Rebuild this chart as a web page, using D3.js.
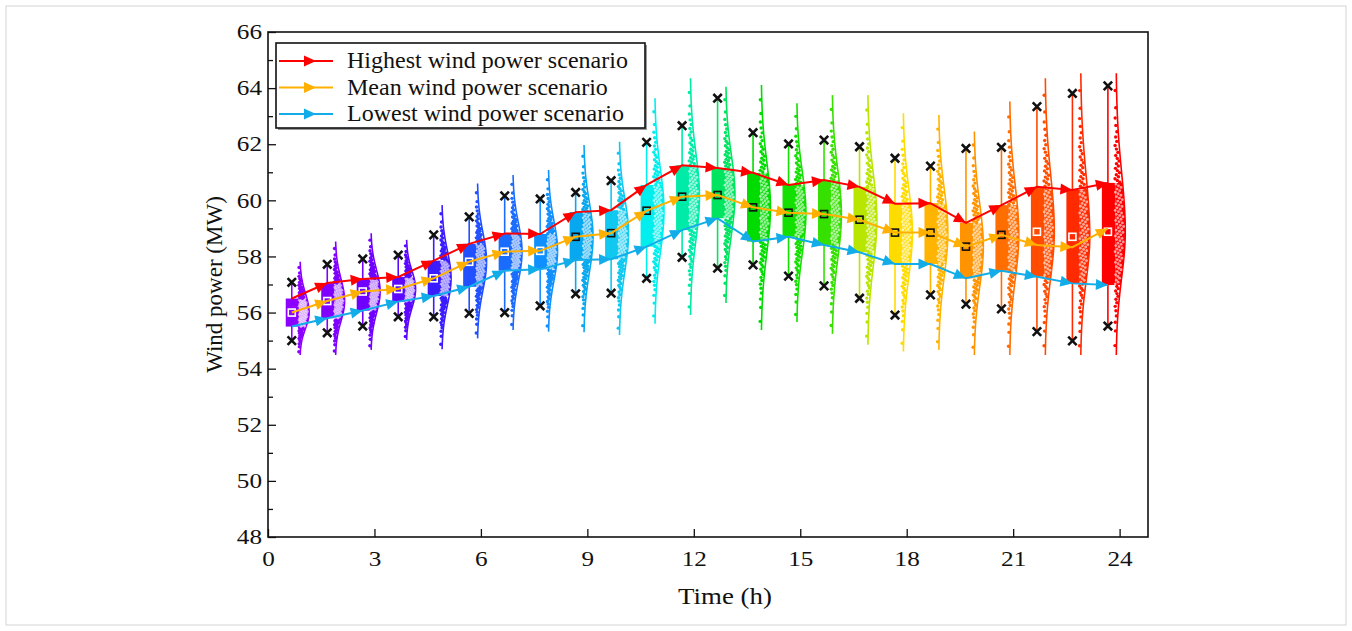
<!DOCTYPE html>
<html lang="en">
<head>
<meta charset="utf-8">
<title>Wind power scenarios</title>
<script src="https://d3js.org/d3.v7.min.js"></script>
<style>
  body { margin: 0; background: #fff; }
  text { font-family: "Liberation Serif", "Times New Roman", serif; fill: #111; }
</style>
</head>
<body>
<div id="chart"></div>
<script>
// ---- data ----
const hours = [1, 2, 3, 4, 5, 6, 7, 8, 9, 10, 11, 12, 13, 14, 15, 16, 17, 18, 19, 20, 21, 22, 23, 24];
const highest = [56.5, 57.05, 57.2, 57.27, 57.85, 58.45, 58.82, 58.8, 59.58, 59.65, 60.55, 61.25,
                 61.15, 60.98, 60.55, 60.72, 60.48, 59.88, 59.9, 59.2, 59.83, 60.48, 60.37, 60.62];
const meanScenario = [56.0, 56.41, 56.75, 56.84, 57.22, 57.81, 58.17, 58.2, 58.7, 58.83, 59.63, 60.13,
                      60.19, 59.75, 59.56, 59.51, 59.31, 58.85, 58.85, 58.35, 58.77, 58.41, 58.33, 59.0];
const lowest = [55.5, 55.8, 56.07, 56.39, 56.59, 56.92, 57.49, 57.54, 57.87, 57.9, 58.35, 58.94,
                59.36, 58.53, 58.7, 58.41, 58.15, 57.73, 57.73, 57.22, 57.49, 57.28, 57.04, 56.98];
const boxMean = [56.0, 56.41, 56.75, 56.84, 57.22, 57.81, 58.17, 58.2, 58.7, 58.83, 59.63, 60.13,
                 60.19, 59.75, 59.56, 59.51, 59.31, 58.85, 58.85, 58.35, 58.77, 58.88, 58.7, 58.88];
const markTop = [57.08, 57.72, 57.91, 58.05, 58.77, 59.41, 60.16, 60.05, 60.28, 60.7, 62.07, 62.66,
                 63.64, 62.41, 62.01, 62.15, 61.91, 61.5, 61.22, 61.85, 61.89, 63.34, 63.81, 64.08];
const markBottom = [55.0, 55.28, 55.52, 55.85, 55.85, 55.97, 56.0, 56.24, 56.67, 56.69, 57.22, 57.97,
                    57.58, 57.7, 57.3, 56.95, 56.51, 55.91, 56.63, 56.3, 56.13, 55.32, 54.99, 55.52];
const curveTop = [57.81, 58.53, 58.83, 58.59, 59.83, 60.6, 60.9, 61.08, 61.97, 62.09, 63.64, 64.35,
                  64.05, 64.11, 63.46, 63.75, 63.75, 63.1, 63.04, 62.45, 63.52, 64.35, 64.53, 64.53];
const curveBottom = [54.49, 54.49, 54.67, 55.02, 54.69, 55.08, 55.38, 55.32, 55.3, 55.2, 55.6, 55.91,
                     56.34, 55.38, 55.66, 55.24, 54.85, 54.61, 54.67, 54.49, 54.49, 54.49, 54.49, 54.49];
const hourColors = ["#8c00ff", "#8000ff", "#7000ff", "#5c08ff", "#3a1cff", "#2050ff", "#1a6cff", "#1090ff",
                    "#08a8f0", "#10c8f0", "#00eeee", "#00eaa8", "#00e460", "#00dc00", "#14e000", "#36e000",
                    "#b8e600", "#ffdc00", "#ffb400", "#ff9400", "#ff6e00", "#ff4c00", "#ff2a00", "#ff0000"];
const xTicks = [0, 3, 6, 9, 12, 15, 18, 21, 24];
const yTicks = [48, 50, 52, 54, 56, 58, 60, 62, 64, 66];
const yMinor = [49, 51, 53, 55, 57, 59, 61, 63, 65];
const seriesNames = ["Highest wind power scenario", "Mean wind power scenario", "Lowest wind power scenario"];
const seriesColors = ["#ff0000", "#ffb000", "#12ace8"];

// ---- chart setup ----
const width = 1352, height = 631;
const pLeft = 268, pRight = 1148, pTop = 32, pBottom = 537;

const svg = d3.select("#chart").append("svg")
  .attr("width", width)
  .attr("height", height);

svg.append("rect")
  .attr("x", 6).attr("y", 6).attr("width", width - 12).attr("height", height - 12)
  .attr("fill", "none").attr("stroke", "#d4d4d4");

const x = d3.scaleLinear().domain([0, 24.8]).range([pLeft, pRight]);
const y = d3.scaleLinear().domain([48, 66]).range([pBottom, pTop]);

// offsets (in hours) for the parts of one group
const boxL = -0.5, boxR = -0.12, centre = -0.33, base = -0.1, peak = 0.26;

const plot = svg.append("g");

hours.forEach((h, i) => {
  const col = hourColors[i];
  const m = boxMean[i];
  const sdUp = (curveTop[i] - m) / 2.7, sdDown = (m - curveBottom[i]) / 2.7;
  const dens = v => {
    const s = v > m ? sdUp : sdDown;
    return peak * Math.exp(-0.5 * ((v - m) / s) ** 2);
  };
  const samples = d3.range(41).map(k => curveBottom[i] + (curveTop[i] - curveBottom[i]) * k / 40);

  // box
  plot.append("rect")
    .attr("x", x(h + boxL)).attr("width", x(h + boxR) - x(h + boxL))
    .attr("y", y(highest[i])).attr("height", y(lowest[i]) - y(highest[i]))
    .attr("fill", col);

  // half violin filled inside the box range
  const inner = samples.filter(v => v > lowest[i] && v < highest[i]);
  const fillPts = [[h + boxR, lowest[i]], [h + base, lowest[i]]]
    .concat([lowest[i], ...inner, highest[i]].map(v => [h + base + dens(v), v]))
    .concat([[h + base, highest[i]], [h + boxR, highest[i]]]);
  plot.append("path")
    .attr("d", d3.line().x(d => x(d[0])).y(d => y(d[1]))(fillPts))
    .attr("fill", col);

  // whisker
  plot.append("line")
    .attr("x1", x(h + centre)).attr("x2", x(h + centre))
    .attr("y1", y(markTop[i])).attr("y2", y(markBottom[i]))
    .attr("stroke", col).attr("stroke-width", 1.6);

  // density curve
  plot.append("path")
    .attr("d", d3.line().x(v => x(h + base + dens(v))).y(v => y(v)).curve(d3.curveBasis)(samples))
    .attr("fill", "none").attr("stroke", col).attr("stroke-width", 1.6);

  // scenario points placed on the quantiles of the drawn density
  const w = samples.map(dens);
  const cum = d3.cumsum(w);
  const total = cum[cum.length - 1];
  const n = 110;
  for (let k = 0; k < n; k++) {
    const target = (k + 0.5) / n * total;
    const j = Math.max(1, d3.bisectLeft(cum, target));
    const t = (target - cum[j - 1]) / (cum[j] - cum[j - 1] || 1);
    const v = samples[j - 1] + t * (samples[j] - samples[j - 1]);
    const u = (k * 0.618034) % 1;
    const px = h + base - 0.03 + u * dens(v) * 0.95;
    const inBox = v > lowest[i] && v < highest[i];
    plot.append("circle")
      .attr("cx", x(px)).attr("cy", y(v)).attr("r", inBox ? 1.4 : 1.7)
      .attr("fill", inBox ? "#fff" : col)
      .attr("opacity", inBox ? 0.6 : 1);
  }

  // extreme markers
  [markTop[i], markBottom[i]].forEach(v => {
    plot.append("path")
      .attr("d", d3.symbol(d3.symbolTimes, 48)())
      .attr("transform", `translate(${x(h + centre)},${y(v)})`)
      .attr("fill", "none").attr("stroke", "#111").attr("stroke-width", 2.6);
  });

  // mean marker
  plot.append("rect")
    .attr("x", x(h + centre) - 3.5).attr("y", y(m) - 3.5)
    .attr("width", 7).attr("height", 7)
    .attr("fill", "none")
    .attr("stroke", (h >= 9 && h <= 21) ? "#111" : "#fff")
    .attr("stroke-width", 1.6);
});

// scenario lines with arrow heads
function arrow(g, x0, y0, x1, y1, col, len = 12, hw = 5.5) {
  const dx = x1 - x0, dy = y1 - y0, l = Math.hypot(dx, dy) || 1;
  const ux = dx / l, uy = dy / l;
  const bx = x1 - ux * len, by = y1 - uy * len;
  g.append("path")
    .attr("d", `M${x1},${y1}L${bx - uy * hw},${by + ux * hw}L${bx + uy * hw},${by - ux * hw}Z`)
    .attr("fill", col);
}

[highest, meanScenario, lowest].forEach((vals, s) => {
  const pts = hours.map((h, i) => [x(h + centre), y(vals[i])]);
  const g = svg.append("g");
  g.append("path")
    .attr("d", d3.line()(pts))
    .attr("fill", "none").attr("stroke", seriesColors[s]).attr("stroke-width", 2);
  for (let i = 1; i < pts.length; i++) {
    arrow(g, pts[i - 1][0], pts[i - 1][1], pts[i][0], pts[i][1], seriesColors[s]);
  }
});

// ---- axes ----
const xAxis = svg.append("g")
  .attr("transform", `translate(0,${pBottom})`)
  .call(d3.axisBottom(x).tickValues(xTicks).tickSizeInner(-8).tickSizeOuter(0).tickPadding(14));
const yAxis = svg.append("g")
  .attr("transform", `translate(${pLeft},0)`)
  .call(d3.axisLeft(y).tickValues(yTicks).tickSizeInner(-8).tickSizeOuter(0).tickPadding(5));
const yMinorAxis = svg.append("g")
  .attr("transform", `translate(${pLeft},0)`)
  .call(d3.axisLeft(y).tickValues(yMinor).tickSizeInner(-5).tickSizeOuter(0).tickFormat(""));

[xAxis, yAxis, yMinorAxis].forEach(a => {
  a.select(".domain").remove();
  a.selectAll(".tick line").attr("stroke", "#111").attr("stroke-width", 1.3);
  a.selectAll(".tick text").attr("font-size", 21).attr("fill", "#111")
    .attr("transform", "scale(1.2,1)")
    .style("font-family", "'Liberation Serif', serif");
});

svg.append("rect")
  .attr("x", pLeft).attr("y", pTop).attr("width", pRight - pLeft).attr("height", pBottom - pTop)
  .attr("fill", "none").attr("stroke", "#111").attr("stroke-width", 1.6);

svg.append("text")
  .attr("transform", `translate(${(pLeft + pRight) / 2 + 17},604) scale(1.12,1)`)
  .attr("text-anchor", "middle").attr("font-size", 24)
  .text("Time (h)");
svg.append("text")
  .attr("transform", `translate(222,${(pTop + pBottom) / 2}) rotate(-90)`)
  .attr("text-anchor", "middle").attr("font-size", 23)
  .text("Wind power (MW)");

// ---- legend ----
const lg = svg.append("g");
lg.append("rect")
  .attr("x", 278).attr("y", 45).attr("width", 369).attr("height", 85)
  .attr("fill", "#999");
lg.append("rect")
  .attr("x", 276).attr("y", 43).attr("width", 369).attr("height", 85)
  .attr("fill", "#fff").attr("stroke", "#111").attr("stroke-width", 1.6);
seriesNames.forEach((name, s) => {
  const cy = 61 + s * 26.5;
  lg.append("line")
    .attr("x1", 279).attr("x2", 333).attr("y1", cy).attr("y2", cy)
    .attr("stroke", seriesColors[s]).attr("stroke-width", 2);
  arrow(lg, 279, cy, 316, cy, seriesColors[s]);
  lg.append("text")
    .attr("transform", `translate(347,${cy + 7}) scale(1.045,1)`)
    .attr("font-size", 23)
    .text(name);
});
</script>
</body>
</html>
